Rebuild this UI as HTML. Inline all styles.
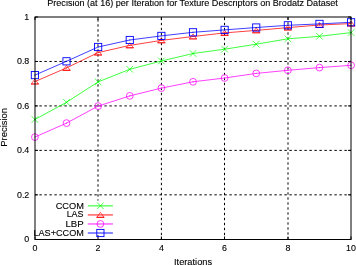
<!DOCTYPE html>
<html><head><meta charset="utf-8"><style>
html,body{margin:0;padding:0;background:#fff;}
body{width:356px;height:265px;overflow:hidden;}
svg{display:block;}
text{filter:grayscale(1);}
text{font-family:"Liberation Sans",sans-serif;font-size:8.9px;fill:#000;stroke:#000;stroke-width:0.12px;}
</style></head><body>
<svg width="356" height="265" viewBox="0 0 356 265">
<rect width="356" height="265" fill="#fff"/>
<g stroke="#000" stroke-width="1" stroke-dasharray="2.4 2.6"><line x1="98.00" y1="17.0" x2="98.00" y2="239.50" stroke-dashoffset="2.75"/><line x1="161.40" y1="17.0" x2="161.40" y2="239.50" stroke-dashoffset="4.2"/><line x1="224.50" y1="17.0" x2="224.50" y2="239.50" stroke-dashoffset="4.2"/><line x1="288.00" y1="17.0" x2="288.00" y2="239.50" stroke-dashoffset="4.7"/><line x1="35.0" y1="194.84" x2="351.0" y2="194.84" stroke-dashoffset="0.6"/><line x1="35.0" y1="150.38" x2="351.0" y2="150.38" stroke-dashoffset="0.6"/><line x1="35.0" y1="105.92" x2="351.0" y2="105.92" stroke-dashoffset="0.6"/><line x1="35.0" y1="61.46" x2="351.0" y2="61.46" stroke-dashoffset="0.6"/></g>
<rect x="36" y="200.6" width="80" height="34.6" fill="#fff"/>
<path d="M35.00,239.50v-3.0M35.00,17.00v3.0M98.00,239.50v-3.0M98.00,17.00v3.0M161.40,239.50v-3.0M161.40,17.00v3.0M224.50,239.50v-3.0M224.50,17.00v3.0M288.00,239.50v-3.0M288.00,17.00v3.0M351.00,239.50v-3.0M351.00,17.00v3.0M35.0,239.50h3.0M351.0,239.50h-3.0M35.0,194.84h3.0M351.0,194.84h-3.0M35.0,150.38h3.0M351.0,150.38h-3.0M35.0,105.92h3.0M351.0,105.92h-3.0M35.0,61.46h3.0M351.0,61.46h-3.0M35.0,17.00h3.0M351.0,17.00h-3.0" stroke="#000" stroke-width="1" fill="none"/>
<polyline points="34.90,119.50 66.52,102.30 98.14,81.90 129.76,69.30 161.38,61.00 193.00,53.50 224.62,49.20 256.24,44.20 287.86,38.80 319.48,36.30 351.10,32.60" fill="none" stroke="#00ff00" stroke-width="1.0" stroke-opacity="0.75"/>
<path d="M31.60,116.20L38.20,122.80M31.60,122.80L38.20,116.20" stroke="#00ff00" stroke-width="0.7" fill="none"/>
<rect x="34.40" y="119.00" width="1" height="1" fill="#00ff00"/>
<path d="M63.22,99.00L69.82,105.60M63.22,105.60L69.82,99.00" stroke="#00ff00" stroke-width="0.7" fill="none"/>
<rect x="66.02" y="101.80" width="1" height="1" fill="#00ff00"/>
<path d="M94.84,78.60L101.44,85.20M94.84,85.20L101.44,78.60" stroke="#00ff00" stroke-width="0.7" fill="none"/>
<rect x="97.64" y="81.40" width="1" height="1" fill="#00ff00"/>
<path d="M126.46,66.00L133.06,72.60M126.46,72.60L133.06,66.00" stroke="#00ff00" stroke-width="0.7" fill="none"/>
<rect x="129.26" y="68.80" width="1" height="1" fill="#00ff00"/>
<path d="M158.08,57.70L164.68,64.30M158.08,64.30L164.68,57.70" stroke="#00ff00" stroke-width="0.7" fill="none"/>
<rect x="160.88" y="60.50" width="1" height="1" fill="#00ff00"/>
<path d="M189.70,50.20L196.30,56.80M189.70,56.80L196.30,50.20" stroke="#00ff00" stroke-width="0.7" fill="none"/>
<rect x="192.50" y="53.00" width="1" height="1" fill="#00ff00"/>
<path d="M221.32,45.90L227.92,52.50M221.32,52.50L227.92,45.90" stroke="#00ff00" stroke-width="0.7" fill="none"/>
<rect x="224.12" y="48.70" width="1" height="1" fill="#00ff00"/>
<path d="M252.94,40.90L259.54,47.50M252.94,47.50L259.54,40.90" stroke="#00ff00" stroke-width="0.7" fill="none"/>
<rect x="255.74" y="43.70" width="1" height="1" fill="#00ff00"/>
<path d="M284.56,35.50L291.16,42.10M284.56,42.10L291.16,35.50" stroke="#00ff00" stroke-width="0.7" fill="none"/>
<rect x="287.36" y="38.30" width="1" height="1" fill="#00ff00"/>
<path d="M316.18,33.00L322.78,39.60M316.18,39.60L322.78,33.00" stroke="#00ff00" stroke-width="0.7" fill="none"/>
<rect x="318.98" y="35.80" width="1" height="1" fill="#00ff00"/>
<path d="M347.80,29.30L354.40,35.90M347.80,35.90L354.40,29.30" stroke="#00ff00" stroke-width="0.7" fill="none"/>
<rect x="350.60" y="32.10" width="1" height="1" fill="#00ff00"/>
<polyline points="34.90,81.60 66.52,67.90 98.14,52.60 129.76,45.40 161.38,40.40 193.00,36.50 224.62,32.90 256.24,30.40 287.86,27.60 319.48,25.00 351.10,23.60" fill="none" stroke="#ff0000" stroke-width="1.0" stroke-opacity="0.75"/>
<path d="M31.30,84.00L34.90,79.00L38.50,84.00" stroke="#ff0000" stroke-width="0.65" fill="none"/><path d="M31.00,84.00H38.80" stroke="#ff0000" stroke-width="1.15"/>
<rect x="34.40" y="81.10" width="1" height="1" fill="#ff0000"/>
<path d="M62.92,70.30L66.52,65.30L70.12,70.30" stroke="#ff0000" stroke-width="0.65" fill="none"/><path d="M62.62,70.30H70.42" stroke="#ff0000" stroke-width="1.15"/>
<rect x="66.02" y="67.40" width="1" height="1" fill="#ff0000"/>
<path d="M94.54,55.00L98.14,50.00L101.74,55.00" stroke="#ff0000" stroke-width="0.65" fill="none"/><path d="M94.24,55.00H102.04" stroke="#ff0000" stroke-width="1.15"/>
<rect x="97.64" y="52.10" width="1" height="1" fill="#ff0000"/>
<path d="M126.16,47.80L129.76,42.80L133.36,47.80" stroke="#ff0000" stroke-width="0.65" fill="none"/><path d="M125.86,47.80H133.66" stroke="#ff0000" stroke-width="1.15"/>
<rect x="129.26" y="44.90" width="1" height="1" fill="#ff0000"/>
<path d="M157.78,42.80L161.38,37.80L164.98,42.80" stroke="#ff0000" stroke-width="0.65" fill="none"/><path d="M157.48,42.80H165.28" stroke="#ff0000" stroke-width="1.15"/>
<rect x="160.88" y="39.90" width="1" height="1" fill="#ff0000"/>
<path d="M189.40,38.90L193.00,33.90L196.60,38.90" stroke="#ff0000" stroke-width="0.65" fill="none"/><path d="M189.10,38.90H196.90" stroke="#ff0000" stroke-width="1.15"/>
<rect x="192.50" y="36.00" width="1" height="1" fill="#ff0000"/>
<path d="M221.02,35.30L224.62,30.30L228.22,35.30" stroke="#ff0000" stroke-width="0.65" fill="none"/><path d="M220.72,35.30H228.52" stroke="#ff0000" stroke-width="1.15"/>
<rect x="224.12" y="32.40" width="1" height="1" fill="#ff0000"/>
<path d="M252.64,32.80L256.24,27.80L259.84,32.80" stroke="#ff0000" stroke-width="0.65" fill="none"/><path d="M252.34,32.80H260.14" stroke="#ff0000" stroke-width="1.15"/>
<rect x="255.74" y="29.90" width="1" height="1" fill="#ff0000"/>
<path d="M284.26,30.00L287.86,25.00L291.46,30.00" stroke="#ff0000" stroke-width="0.65" fill="none"/><path d="M283.96,30.00H291.76" stroke="#ff0000" stroke-width="1.15"/>
<rect x="287.36" y="27.10" width="1" height="1" fill="#ff0000"/>
<path d="M315.88,27.40L319.48,22.40L323.08,27.40" stroke="#ff0000" stroke-width="0.65" fill="none"/><path d="M315.58,27.40H323.38" stroke="#ff0000" stroke-width="1.15"/>
<rect x="318.98" y="24.50" width="1" height="1" fill="#ff0000"/>
<path d="M347.50,26.00L351.10,21.00L354.70,26.00" stroke="#ff0000" stroke-width="0.65" fill="none"/><path d="M347.20,26.00H355.00" stroke="#ff0000" stroke-width="1.15"/>
<rect x="350.60" y="23.10" width="1" height="1" fill="#ff0000"/>
<polyline points="34.90,137.10 66.52,123.10 98.14,106.10 129.76,95.90 161.38,88.10 193.00,81.80 224.62,78.00 256.24,73.40 287.86,70.30 319.48,67.60 351.10,65.30" fill="none" stroke="#ff00ff" stroke-width="1.0" stroke-opacity="0.75"/>
<circle cx="34.90" cy="137.10" r="3.4" stroke="#ff00ff" stroke-width="0.75" fill="none"/>
<rect x="34.40" y="136.60" width="1" height="1" fill="#ff00ff"/>
<circle cx="66.52" cy="123.10" r="3.4" stroke="#ff00ff" stroke-width="0.75" fill="none"/>
<rect x="66.02" y="122.60" width="1" height="1" fill="#ff00ff"/>
<circle cx="98.14" cy="106.10" r="3.4" stroke="#ff00ff" stroke-width="0.75" fill="none"/>
<rect x="97.64" y="105.60" width="1" height="1" fill="#ff00ff"/>
<circle cx="129.76" cy="95.90" r="3.4" stroke="#ff00ff" stroke-width="0.75" fill="none"/>
<rect x="129.26" y="95.40" width="1" height="1" fill="#ff00ff"/>
<circle cx="161.38" cy="88.10" r="3.4" stroke="#ff00ff" stroke-width="0.75" fill="none"/>
<rect x="160.88" y="87.60" width="1" height="1" fill="#ff00ff"/>
<circle cx="193.00" cy="81.80" r="3.4" stroke="#ff00ff" stroke-width="0.75" fill="none"/>
<rect x="192.50" y="81.30" width="1" height="1" fill="#ff00ff"/>
<circle cx="224.62" cy="78.00" r="3.4" stroke="#ff00ff" stroke-width="0.75" fill="none"/>
<rect x="224.12" y="77.50" width="1" height="1" fill="#ff00ff"/>
<circle cx="256.24" cy="73.40" r="3.4" stroke="#ff00ff" stroke-width="0.75" fill="none"/>
<rect x="255.74" y="72.90" width="1" height="1" fill="#ff00ff"/>
<circle cx="287.86" cy="70.30" r="3.4" stroke="#ff00ff" stroke-width="0.75" fill="none"/>
<rect x="287.36" y="69.80" width="1" height="1" fill="#ff00ff"/>
<circle cx="319.48" cy="67.60" r="3.4" stroke="#ff00ff" stroke-width="0.75" fill="none"/>
<rect x="318.98" y="67.10" width="1" height="1" fill="#ff00ff"/>
<circle cx="351.10" cy="65.30" r="3.4" stroke="#ff00ff" stroke-width="0.75" fill="none"/>
<rect x="350.60" y="64.80" width="1" height="1" fill="#ff00ff"/>
<polyline points="34.90,75.10 66.52,61.30 98.14,47.00 129.76,40.00 161.38,35.90 193.00,32.30 224.62,29.90 256.24,27.50 287.86,25.30 319.48,23.90 351.10,22.30" fill="none" stroke="#0000ff" stroke-width="1.0" stroke-opacity="0.75"/>
<rect x="31.30" y="71.50" width="7.20" height="7.20" stroke="#0000ff" stroke-width="0.9" fill="none"/>
<rect x="34.40" y="74.60" width="1" height="1" fill="#0000ff"/>
<rect x="62.92" y="57.70" width="7.20" height="7.20" stroke="#0000ff" stroke-width="0.9" fill="none"/>
<rect x="66.02" y="60.80" width="1" height="1" fill="#0000ff"/>
<rect x="94.54" y="43.40" width="7.20" height="7.20" stroke="#0000ff" stroke-width="0.9" fill="none"/>
<rect x="97.64" y="46.50" width="1" height="1" fill="#0000ff"/>
<rect x="126.16" y="36.40" width="7.20" height="7.20" stroke="#0000ff" stroke-width="0.9" fill="none"/>
<rect x="129.26" y="39.50" width="1" height="1" fill="#0000ff"/>
<rect x="157.78" y="32.30" width="7.20" height="7.20" stroke="#0000ff" stroke-width="0.9" fill="none"/>
<rect x="160.88" y="35.40" width="1" height="1" fill="#0000ff"/>
<rect x="189.40" y="28.70" width="7.20" height="7.20" stroke="#0000ff" stroke-width="0.9" fill="none"/>
<rect x="192.50" y="31.80" width="1" height="1" fill="#0000ff"/>
<rect x="221.02" y="26.30" width="7.20" height="7.20" stroke="#0000ff" stroke-width="0.9" fill="none"/>
<rect x="224.12" y="29.40" width="1" height="1" fill="#0000ff"/>
<rect x="252.64" y="23.90" width="7.20" height="7.20" stroke="#0000ff" stroke-width="0.9" fill="none"/>
<rect x="255.74" y="27.00" width="1" height="1" fill="#0000ff"/>
<rect x="284.26" y="21.70" width="7.20" height="7.20" stroke="#0000ff" stroke-width="0.9" fill="none"/>
<rect x="287.36" y="24.80" width="1" height="1" fill="#0000ff"/>
<rect x="315.88" y="20.30" width="7.20" height="7.20" stroke="#0000ff" stroke-width="0.9" fill="none"/>
<rect x="318.98" y="23.40" width="1" height="1" fill="#0000ff"/>
<rect x="347.50" y="18.70" width="7.20" height="7.20" stroke="#0000ff" stroke-width="0.9" fill="none"/>
<rect x="350.60" y="21.80" width="1" height="1" fill="#0000ff"/>
<rect x="35.0" y="17.0" width="316.0" height="222.50" fill="none" stroke="#000" stroke-width="1"/>
<line x1="87.8" y1="205.8" x2="112.9" y2="205.8" stroke="#00ff00" stroke-width="1.7" stroke-opacity="0.55"/>
<path d="M97.10,202.50L103.70,209.10M97.10,209.10L103.70,202.50" stroke="#00ff00" stroke-width="0.7" fill="none"/>
<line x1="87.8" y1="214.9" x2="112.9" y2="214.9" stroke="#ff0000" stroke-width="1.7" stroke-opacity="0.55"/>
<path d="M96.80,217.30L100.40,212.30L104.00,217.30" stroke="#ff0000" stroke-width="0.65" fill="none"/><path d="M96.50,217.30H104.30" stroke="#ff0000" stroke-width="1.15"/>
<line x1="87.8" y1="223.95" x2="112.9" y2="223.95" stroke="#ff00ff" stroke-width="1.7" stroke-opacity="0.55"/>
<circle cx="100.40" cy="223.95" r="3.4" stroke="#ff00ff" stroke-width="0.75" fill="none"/>
<line x1="87.8" y1="233.0" x2="112.9" y2="233.0" stroke="#0000ff" stroke-width="1.7" stroke-opacity="0.55"/>
<rect x="96.80" y="229.40" width="7.20" height="7.20" stroke="#0000ff" stroke-width="0.9" fill="none"/>
<text x="47.25" y="6.35" textLength="290.56" lengthAdjust="spacingAndGlyphs" style="font-size:9.1px">Precision (at 16) per Iteration for Texture Descriptors on Brodatz Dataset</text>
<text x="174.03" y="265.20" textLength="38.04" lengthAdjust="spacingAndGlyphs" style="font-size:9.3px">Iterations</text>
<text x="55.68" y="208.60" textLength="28.20" lengthAdjust="spacingAndGlyphs" style="font-size:8.9px">CCOM</text>
<text x="66.65" y="217.20" textLength="16.86" lengthAdjust="spacingAndGlyphs" style="font-size:8.9px">LAS</text>
<text x="65.49" y="227.20" textLength="18.19" lengthAdjust="spacingAndGlyphs" style="font-size:8.9px">LBP</text>
<text x="33.43" y="235.60" textLength="50.39" lengthAdjust="spacingAndGlyphs" style="font-size:8.9px">LAS+CCOM</text>
<text transform="rotate(-90)" x="-146.69" y="6.7" textLength="38.67" lengthAdjust="spacingAndGlyphs" style="font-size:8.9px">Precision</text>
<text x="29.3" y="242.10" text-anchor="end">0</text>
<text x="29.3" y="197.64" text-anchor="end">0.2</text>
<text x="29.3" y="153.18" text-anchor="end">0.4</text>
<text x="29.3" y="108.72" text-anchor="end">0.6</text>
<text x="29.3" y="64.26" text-anchor="end">0.8</text>
<text x="29.3" y="19.80" text-anchor="end">1</text>
<text x="35.00" y="251.3" text-anchor="middle">0</text>
<text x="98.00" y="251.3" text-anchor="middle">2</text>
<text x="161.40" y="251.3" text-anchor="middle">4</text>
<text x="224.50" y="251.3" text-anchor="middle">6</text>
<text x="288.00" y="251.3" text-anchor="middle">8</text>
<text x="351.00" y="251.3" text-anchor="middle">10</text>
</svg>
</body></html>
